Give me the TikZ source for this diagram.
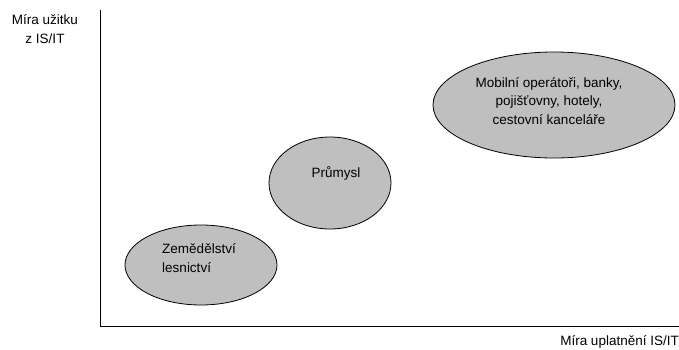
\documentclass[tikz,border=0pt]{standalone}
\usepackage{fontspec}
\setmainfont{Liberation Sans}
\usetikzlibrary{shapes.geometric}
\tikzset{sector node/.style={ellipse,draw,fill=black!25,thick,inner sep=0pt},
         lbl/.style={inner sep=0pt,font=\fontsize{13.5}{18.5}\selectfont},}

\begin{document}
\begin{tikzpicture}[x=1pt,y=-1pt]
        \useasboundingbox (0,0) rectangle (679,350);
        \coordinate (top) at (100,10);
        \coordinate (o) at (100,326);
        \coordinate (end) at (679,326);
        \draw[line width=1pt] (top) -- (o) -- (end);

        \node[lbl,align=center] (ylab) at (45,29) {Míra užitku\\z IS/IT};
        \node[lbl,anchor=east] (xlab) at (679,342) {Míra uplatnění IS/IT};

        \node[sector node,minimum width=152,minimum height=80] (zem) at (201,265) {};
        \node[sector node,minimum width=122,minimum height=92] (prum) at (330,183) {};
        \node[sector node,minimum width=242,minimum height=106] (mob) at (554,105) {};

        \node[lbl,align=left] (zemtext) at (199,258) {Zemědělství\\lesnictví};
        \node[lbl] (prumtext) at (336,173) {Průmysl};
        \node[lbl,align=center] (mobtext) at (549,101) {Mobilní operátoři, banky,\\pojišťovny, hotely,\\cestovní kanceláře};
    \end{tikzpicture}
\end{document}
